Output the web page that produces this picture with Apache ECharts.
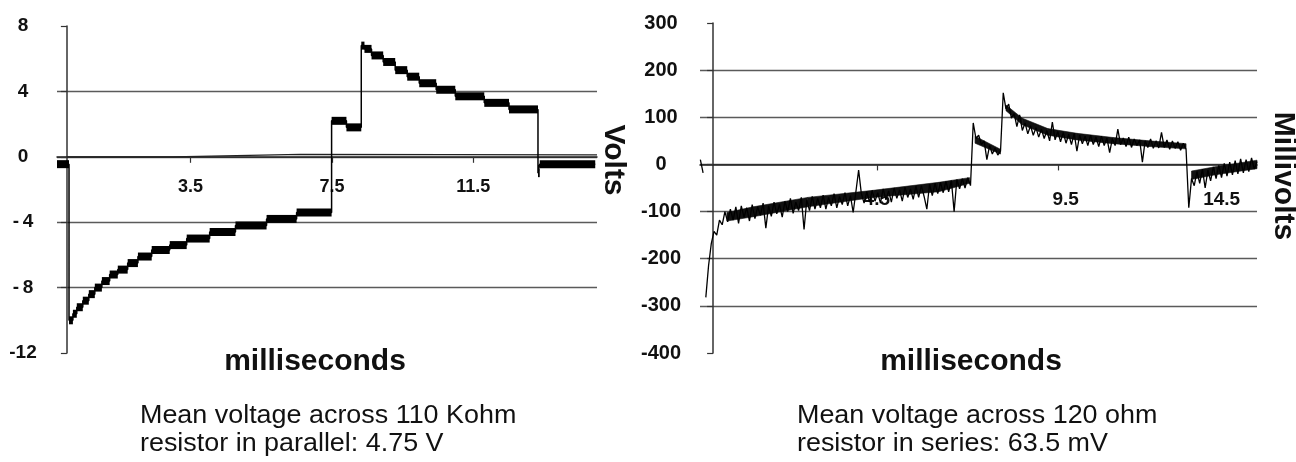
<!DOCTYPE html>
<html><head><meta charset="utf-8">
<script src="https://cdn.jsdelivr.net/npm/echarts@6/dist/echarts.min.js"></script>
<style>html,body{margin:0;padding:0;background:#fff}#c{width:1296px;height:462px}</style>
</head><body><div id="c"></div>
<script>
// ---------- Left panel: Volts (110 Kohm in parallel) ----------
const leftStepTimes  = [-0.28, 0.06, 0.17, 0.28, 0.45, 0.62, 0.79, 0.99, 1.21, 1.44, 1.72, 2.01, 2.40, 2.91, 3.39, 4.04, 4.77, 5.65, 6.50,
                        7.49, 7.91, 8.33, 8.42, 8.62, 8.95, 9.29, 9.63, 9.97, 10.45, 10.99, 11.81, 12.51, 13.33, 13.38];
const leftStepLevels = [-0.45, -10.0, -9.6, -9.2, -8.8, -8.4, -8.0, -7.6, -7.2, -6.9, -6.5, -6.1, -5.7, -5.4, -5.0, -4.6, -4.2, -3.8, -3.4,
                        2.2, 1.8, 6.8, 6.6, 6.2, 5.8, 5.3, 4.9, 4.5, 4.1, 3.7, 3.3, 2.9, -1.0, -0.45];
const leftEndTime = 14.95;
const leftMeanTimes  = [0, 3.0, 6.6, 15];
const leftMeanValues = [0, 0, 0.15, 0.12];
const leftXTicks = [3.5, 7.5, 11.5];

// ---------- Right panel: Millivolts (120 ohm in series) ----------
const sampleStep = 0.075; // ms between samples
const rightBlipStart = -0.35;
const rightBlip = [10, -18];
const rightAStart = -0.2;
const rightA = [-282,-215,-168,-142,-150,-118,-128,-100,-122,-95,
  -118,-90,-125,-88,-112,-92,-120,-85,-115,-90,
  -108,-82,-135,-88,-110,-80,-105,-85,-112,-78,
  -100,-72,-104,-80,-98,-70,-138,-75,-98,-68,
  -95,-72,-92,-65,-95,-70,-88,-62,-92,-68,
  -85,-60,-88,-66,-102,-58,-12,-62,-82,-58,
  -80,-55,-78,-60,-82,-52,-75,-56,-80,-50,
  -72,-54,-78,-48,-70,-52,-74,-46,-70,-45,
  -68,-95,-42,-66,-40,-62,-38,-60,-36,-58,
  -34,-100,-32,-52,-30,-50,-28,-45];
const rightBStart = 7.15;
const rightB = [88, 55, 62, 42, 50, 10, 40, 22, 35, 20, 28];
const rightCStart = 7.975;
const rightC = [152,118,128,98,108,80,105,72,88,65,
  82,62,78,58,75,55,72,50,90,52,
  70,48,68,45,64,42,66,28,62,44,
  60,40,62,42,58,38,60,40,56,25,
  55,40,75,42,56,38,58,36,54,40,
  52,5,50,36,54,34,50,35,68,36,
  52,32,50,34,48,30,45,32];
const rightDStart = 13.075;
const rightD = [-92,-30,-45,-15,-40,-10,-50,-12,-35,-5,-30,-2,-28,2,-25,5,-22,8,-20,12,-18,10,-15,14,-10,6];
// dense core of the noisy trace (lower / upper edge), read per segment
const bandTimes = [0.38, 1.1, 2.6, 4.4, 6.2, 7.05,   7.2, 7.9,   8.05, 8.5, 9.2, 10.0, 11.0, 12.0, 13.0,   13.15, 13.8, 14.95];
const bandLow   = [-120, -111, -90, -70, -58, -40,   45, 22,    114, 84, 62, 52, 44, 38, 33,   -32, -22, -9];
const bandHigh  = [-102, -90, -70, -55, -38, -28,    60, 32,    126, 98, 76, 66, 57, 50, 44,   -14, -5, 9];
const bandSeg   = [0, 0, 0, 0, 0, 0,   1, 1,   2, 2, 2, 2, 2, 2, 2,   3, 3, 3];
const rightXTicks = [4.5, 9.5, 14.5];

// ---------- build series data ----------
const leftBlocks = leftStepTimes.map((t, i) => [t, i + 1 < leftStepTimes.length ? leftStepTimes[i + 1] : leftEndTime, leftStepLevels[i]]);
const leftTrace = leftStepTimes.map((t, i) => [t, leftStepLevels[i]]).concat([[leftEndTime, leftStepLevels[leftStepLevels.length - 1]]]);
const leftMean = leftMeanTimes.map((t, i) => [t, leftMeanValues[i]]);

function seg(start, vals) { return vals.map((v, i) => [start + i * sampleStep, v]); }
const rightTrace = seg(rightBlipStart, rightBlip)
  .concat([[rightBlipStart + 2 * sampleStep, null]])
  .concat(seg(rightAStart, rightA), seg(rightBStart, rightB), seg(rightCStart, rightC), seg(rightDStart, rightD));
const bandData = bandTimes.map((t, i) => [t, bandLow[i], bandHigh[i], bandSeg[i]]);

const FONT = "'Liberation Sans', Arial, Helvetica, sans-serif";
const AX = '#333', GRIDC = '#5a5a5a';

function yAxisCfg(gi, min, max, step, fs, margin, fmt) {
  return {
    type: 'value', gridIndex: gi, min: min, max: max, interval: step,
    axisLine: { show: true, onZero: true, lineStyle: { color: AX, width: 1.5 } },
    axisTick: { show: true, length: 6, lineStyle: { color: AX, width: 1.2 } },
    axisLabel: { fontFamily: FONT, fontWeight: 'bold', fontSize: fs, color: '#111', align: 'center', margin: margin, formatter: fmt },
    splitLine: { show: true, showMinLine: false, showMaxLine: false, lineStyle: { color: GRIDC, width: 1.3 } }
  };
}
function xAxisCfg(gi, min, max, ticks, fs, margin, fmt, rich) {
  return {
    type: 'value', gridIndex: gi, min: min, max: max,
    axisLine: { show: true, onZero: true, lineStyle: { color: '#222', width: 1.5 } },
    axisTick: { show: true, customValues: ticks, length: 6, lineStyle: { color: AX, width: 1.2 } },
    axisLabel: { customValues: ticks, inside: true, fontFamily: FONT, fontWeight: 'bold', fontSize: fs, color: '#111', margin: margin, formatter: fmt, rich: rich },
    splitLine: { show: false }
  };
}

function blockRender(params, api) {
  const a = api.coord([api.value(0), api.value(2)]);
  const b = api.coord([api.value(1), api.value(2)]);
  return { type: 'rect', shape: { x: a[0], y: a[1] - 4, width: Math.max(b[0] - a[0], 1.5), height: 8 }, style: { fill: '#000' } };
}
function bandRender(params, api) {
  const i = params.dataIndex;
  const nxt = bandData[i + 1];
  if (!nxt || nxt[3] !== bandData[i][3]) return null;
  const cur = bandData[i];
  const pts = [api.coord([cur[0], cur[1]]), api.coord([nxt[0], nxt[1]]), api.coord([nxt[0], nxt[2]]), api.coord([cur[0], cur[2]])];
  return { type: 'polygon', shape: { points: pts }, style: { fill: '#111', stroke: '#111', lineWidth: 0.6 } };
}

function txt(x, y, text, font, opts) {
  opts = opts || {};
  return {
    type: 'text', x: x, y: y, rotation: opts.rot || 0, scaleX: opts.sx || 1, silent: true,
    style: { text: text, font: font, fill: '#111', textAlign: opts.align || 'center', align: opts.align || 'center',
             textVerticalAlign: 'middle', verticalAlign: 'middle' }
  };
}

const richR = { r: { padding: [0, 0, 0, 14], fontFamily: FONT, fontWeight: 'bold', fontSize: 19, color: '#111' },
                l: { padding: [0, 38, 0, 0], fontFamily: FONT, fontWeight: 'bold', fontSize: 19, color: '#111' },
                c: { fontFamily: FONT, fontWeight: 'bold', fontSize: 19, color: '#111' } };

const option = {
  animation: false,
  backgroundColor: '#fff',
  grid: [
    { left: 57, right: 699, top: 26, bottom: 109 },
    { left: 700, right: 39, top: 23, bottom: 109 }
  ],
  xAxis: [
    xAxisCfg(0, -0.28, 15, leftXTicks, 18, 157, v => String(v)),
    xAxisCfg(1, -0.36, 14.95, rightXTicks, 19, 144,
      v => v === 9.5 ? '{r|9.5}' : (v === 14.5 ? '{l|14.5}' : '{c|' + v + '}'), richR)
  ],
  yAxis: [
    yAxisCfg(0, -12, 8, 4, 19, 34, v => v < 0 ? (v > -10 ? '-\u2009' + (-v) : '-' + (-v)) : String(v)),
    yAxisCfg(1, -400, 300, 100, 20, 39, v => String(v))
  ],
  series: [
    { type: 'line', xAxisIndex: 0, yAxisIndex: 0, data: leftMean, showSymbol: false, symbol: 'none',
      lineStyle: { color: '#222', width: 1.2 }, z: 3 },
    { type: 'line', xAxisIndex: 0, yAxisIndex: 0, data: leftTrace, step: 'end', showSymbol: false, symbol: 'none',
      lineStyle: { color: '#000', width: 1.5 }, z: 4 },
    { type: 'custom', xAxisIndex: 0, yAxisIndex: 0, data: leftBlocks, renderItem: blockRender,
      encode: { x: [0, 1], y: 2 }, z: 5 },
    { type: 'custom', xAxisIndex: 1, yAxisIndex: 1, data: bandData, renderItem: bandRender,
      encode: { x: 0, y: [1, 2] }, z: 3 },
    { type: 'line', xAxisIndex: 1, yAxisIndex: 1, data: rightTrace, showSymbol: false, symbol: 'none', connectNulls: false,
      lineStyle: { color: '#000', width: 1.3 }, z: 4 }
  ],
  graphic: [
    txt(613, 160, 'Volts', 'bold 30px ' + FONT, { rot: -Math.PI / 2 }),
    txt(1283, 176, 'Millivolts', 'bold 30px ' + FONT, { rot: -Math.PI / 2 }),
    txt(315, 362, 'milliseconds', 'bold 30px ' + FONT),
    txt(971, 362, 'milliseconds', 'bold 30px ' + FONT),
    txt(140, 416, 'Mean voltage across 110 Kohm', '25px ' + FONT, { align: 'left', sx: 1.076 }),
    txt(140, 444, 'resistor in parallel: 4.75 V', '25px ' + FONT, { align: 'left', sx: 1.076 }),
    txt(797, 416, 'Mean voltage across 120 ohm', '25px ' + FONT, { align: 'left', sx: 1.076 }),
    txt(797, 444, 'resistor in series: 63.5 mV', '25px ' + FONT, { align: 'left', sx: 1.076 })
  ]
};
const chart = echarts.init(document.getElementById('c'));
chart.setOption(option);
</script>
</body></html>
